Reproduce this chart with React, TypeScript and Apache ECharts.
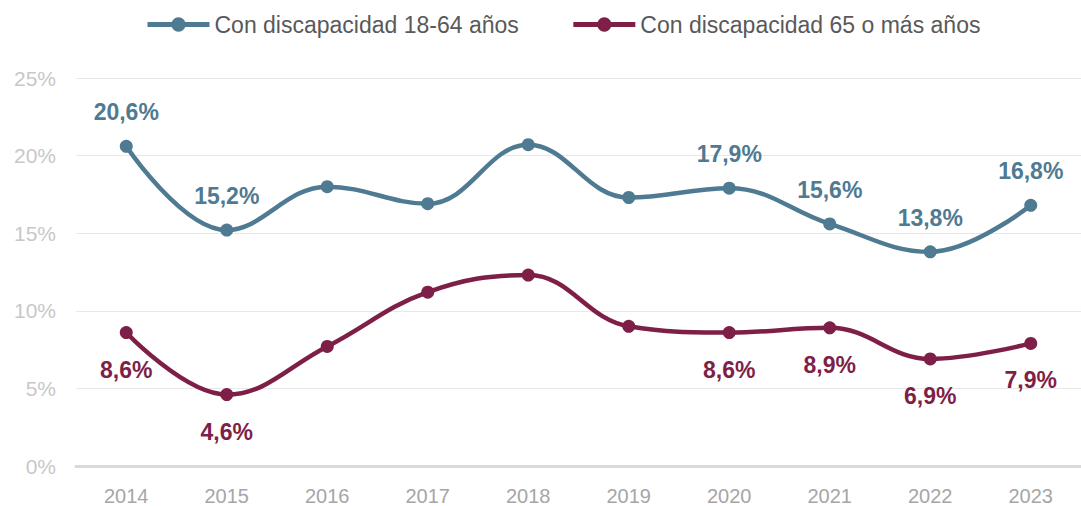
import React, { useEffect, useRef } from "react";
import * as echarts from "echarts";

const years = ["2014", "2015", "2016", "2017", "2018", "2019", "2020", "2021", "2022", "2023"];
const adults = [20.6, 15.2, 18.0, 16.9, 20.7, 17.3, 17.9, 15.6, 13.8, 16.8];
const seniors = [8.6, 4.6, 7.7, 11.2, 12.3, 9.0, 8.6, 8.9, 6.9, 7.9];
const labelledYears = ["2014", "2015", "2020", "2021", "2022", "2023"];
const seriesNames = ["Con discapacidad 18-64 años", "Con discapacidad 65 o más años"];
const colors = ["#4E7A92", "#7E1F47"];

const fmt = (v: number) => v.toFixed(1).replace(".", ",") + "%";

export default function App() {
  const ref = useRef<HTMLDivElement>(null);
  useEffect(() => {
    const chart = echarts.init(ref.current!, undefined, { renderer: "svg" });
    const mk = (vals: number[], pos: "top" | "bottom", dist: number) =>
      vals.map((v, i) => ({
        value: v,
        label: {
          show: labelledYears.includes(years[i]),
          position: pos,
          distance: dist,
          formatter: () => fmt(v),
        },
      }));
    chart.setOption({
      animation: false,
      textStyle: { fontFamily: "Liberation Sans, Arial, sans-serif" },
      legend: {
        top: 8,
        left: 140,
        itemWidth: 62,
        itemHeight: 18,
        itemGap: 52,
        textStyle: { fontSize: 23, color: "#595959" },
        lineStyle: { width: 5 },
        data: seriesNames,
      },
      grid: { left: 76, top: 78, bottom: 39, width: 1016 },
      xAxis: {
        type: "category",
        data: years,
        boundaryGap: true,
        axisLine: { lineStyle: { color: "#D9D9D9", width: 3 } },
        axisTick: { show: false },
        axisLabel: { color: "#A6A6A6", fontSize: 20, margin: 20 },
      },
      yAxis: {
        type: "value",
        min: 0,
        max: 25,
        interval: 5,
        axisLabel: { formatter: "{value}%", color: "#C8C8C8", fontSize: 21, margin: 20 },
        splitLine: { lineStyle: { color: "#E8E8E8", width: 1 } },
        axisLine: { show: false },
        axisTick: { show: false },
      },
      series: [
        {
          name: seriesNames[0],
          type: "line",
          smooth: 0.4,
          data: mk(adults, "top", 16),
          symbol: "circle",
          symbolSize: 13,
          lineStyle: { width: 4.5, color: colors[0] },
          itemStyle: { color: colors[0] },
          label: { color: colors[0], fontSize: 23, fontWeight: "bold" },
        },
        {
          name: seriesNames[1],
          type: "line",
          smooth: 0.4,
          data: mk(seniors, "bottom", 19),
          symbol: "circle",
          symbolSize: 13,
          lineStyle: { width: 4.5, color: colors[1] },
          itemStyle: { color: colors[1] },
          label: { color: colors[1], fontSize: 23, fontWeight: "bold" },
        },
      ],
    });
    return () => chart.dispose();
  }, []);
  return <div ref={ref} style={{ width: 1081, height: 506, position: "absolute", left: 0, top: 0 }} />;
}
